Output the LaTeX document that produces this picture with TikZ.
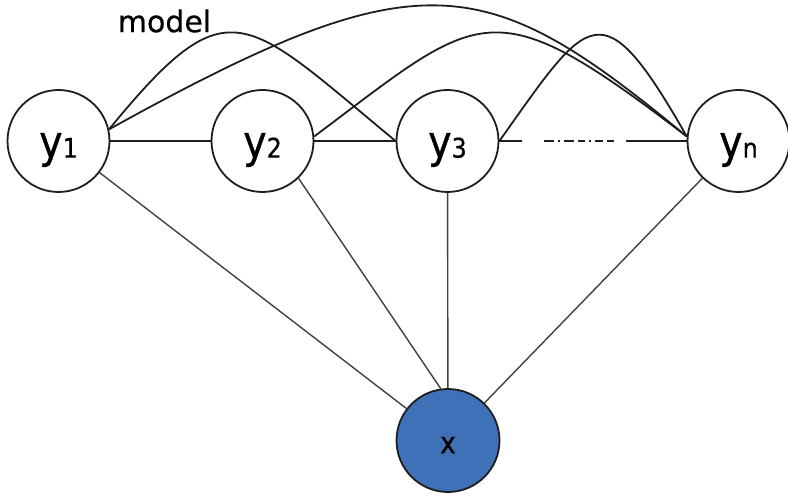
\documentclass[tikz,border=0pt]{standalone}
\usepackage{fontspec}
\setmainfont{DejaVu Sans}
\newfontfamily\labfont[FakeStretch=0.88,FakeBold=0.6]{DejaVu Sans}
\newfontfamily\modelfont[FakeBold=0.4]{DejaVu Sans}
\newcommand\vlabel[1]{\labfont\fontsize{45}{45}\selectfont y\fontsize{27}{27}\selectfont #1}
\definecolor{xblue}{HTML}{3F71B8}
\definecolor{edgec}{HTML}{1E1E1E}
\begin{document}
\begin{tikzpicture}[x=1pt,y=-1pt,
  vnode/.style={circle,draw=edgec,line width=1.8pt,minimum size=102pt,inner sep=0pt,fill=white},
  curveedge/.style={draw=edgec,line width=1.8pt},
  xedge/.style={draw=black!75,line width=1.4pt},
  hedge/.style={draw=edgec,line width=1.8pt}]
\useasboundingbox (0,0) rectangle (788,497);
\node[vnode,label={[yshift=-9pt]center:\vlabel{1}}] (y1) at (58.5,141) {};
\node[vnode,label={[yshift=-9pt]center:\vlabel{2}}] (y2) at (262.5,141) {};
\node[vnode,label={[yshift=-9pt]center:\vlabel{3}}] (y3) at (447.5,141) {};
\node[vnode,label={[yshift=-9pt]center:\vlabel{n}}] (yn) at (738.5,141) {};
\node[vnode,fill=xblue,minimum size=103pt,label={[yshift=-4.7pt]center:{\labfont\fontsize{30}{30}\selectfont x}}] (x) at (448,440.5) {};
\node[font=\modelfont\fontsize{30}{30}\selectfont,inner sep=0pt] (model) at (164.5,21) {model};
% horizontal connectors
\draw[hedge] (y1.east) -- (y2.west);
\draw[hedge] (y2.east) -- (y3.west);
\draw[hedge,dash pattern=on 22.5pt off 22pt on 10pt off 4pt on 2pt off 4pt on 10pt off 4pt on 7pt off 4pt on 2pt off 4pt on 8pt off 4pt on 7pt off 12pt on 100pt off 1pt] (y3.east) -- (yn.west);
% connectors to x
\draw[xedge] (y1) -- (x);
\draw[xedge] (y2.-46) -- (x.98);
\draw[xedge] (y3) -- (x);
\draw[xedge] (yn) -- (x);
% curved connectors
\draw[curveedge] (y1.13) .. controls (229,-17) and (243,15) .. (y3.west);
\draw[curveedge] (y1.13) .. controls (422,-44) and (485,-30) .. (yn.175);
\draw[curveedge] (y2.5) .. controls (483,10) and (490,-14) .. (yn.175);
\draw[curveedge] (y3.east) .. controls (589,15) and (601,-14) .. (yn.175);
\end{tikzpicture}
\end{document}
